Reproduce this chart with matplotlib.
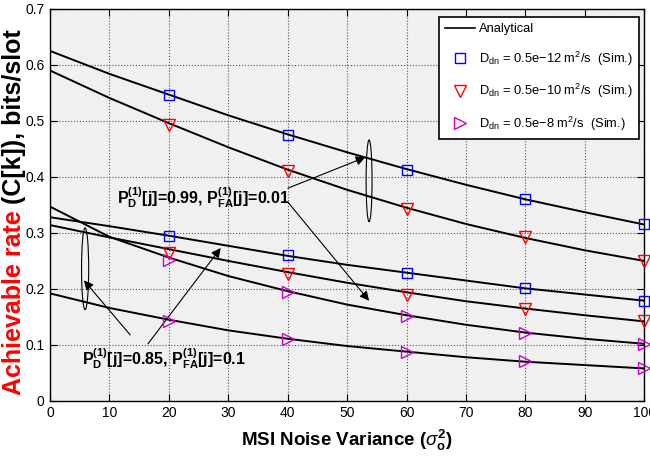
import matplotlib
matplotlib.use("Agg")
import matplotlib.pyplot as plt
from matplotlib.patches import Ellipse

# Data
msi = [0, 10, 20, 30, 40, 50, 60, 70, 80, 90, 100]
ana_12_hi = [0.625, 0.584, 0.547, 0.510, 0.476, 0.444, 0.414, 0.386, 0.360, 0.337, 0.315]
ana_10_hi = [0.590, 0.541, 0.496, 0.453, 0.413, 0.377, 0.345, 0.316, 0.291, 0.269, 0.250]
ana_8_hi = [0.347, 0.293, 0.256, 0.223, 0.196, 0.172, 0.153, 0.136, 0.122, 0.111, 0.102]
ana_12_lo = [0.328, 0.312, 0.295, 0.277, 0.259, 0.243, 0.229, 0.215, 0.201, 0.190, 0.179]
ana_10_lo = [0.314, 0.292, 0.271, 0.250, 0.230, 0.211, 0.194, 0.178, 0.165, 0.153, 0.142]
ana_8_lo = [0.192, 0.166, 0.145, 0.126, 0.111, 0.098, 0.088, 0.078, 0.070, 0.064, 0.058]

msi_sim = [20, 40, 60, 80, 100]
sim_12_hi = [0.547, 0.475, 0.413, 0.360, 0.316]
sim_10_hi = [0.493, 0.410, 0.343, 0.292, 0.250]
sim_8_hi = [0.252, 0.194, 0.152, 0.122, 0.101]
sim_12_lo = [0.295, 0.260, 0.229, 0.201, 0.179]
sim_10_lo = [0.265, 0.226, 0.190, 0.165, 0.143]
sim_8_lo = [0.143, 0.110, 0.088, 0.071, 0.058]

xticks = list(range(0, 101, 10))
yticks = [0, 0.1, 0.2, 0.3, 0.4, 0.5, 0.6, 0.7]
ytick_labels = ["0", "0.1", "0.2", "0.3", "0.4", "0.5", "0.6", "0.7"]

plt.rcParams["font.family"] = ["Liberation Sans", "DejaVu Sans"]
plt.rcParams["mathtext.fontset"] = "custom"
plt.rcParams["mathtext.rm"] = "Liberation Sans"
plt.rcParams["mathtext.it"] = "Liberation Sans:italic"
plt.rcParams["mathtext.bf"] = "Liberation Sans:bold"

fig = plt.figure(figsize=(6.5, 4.7), dpi=100)
ax = fig.add_axes([0.077, 0.147, 0.914, 0.834])
ax.set_facecolor("#f0f0f0")

for ys in [ana_12_hi, ana_10_hi, ana_8_hi, ana_12_lo, ana_10_lo, ana_8_lo]:
    ax.plot(msi, ys, color="black", lw=1.4, zorder=3)

sq = dict(ls="none", marker="s", ms=7.5, mew=1.0, mfc="none", mec="#0000ff", clip_on=False, zorder=4)
tri_d = dict(ls="none", marker="v", ms=9, mew=1.0, mfc="none", mec="#ff0000", clip_on=False, zorder=4)
tri_r = dict(ls="none", marker=">", ms=9, mew=1.0, mfc="none", mec="#cc00cc", clip_on=False, zorder=4)
ax.plot(msi_sim, sim_12_hi, **sq)
ax.plot(msi_sim, sim_12_lo, **sq)
ax.plot(msi_sim, sim_10_hi, **tri_d)
ax.plot(msi_sim, sim_10_lo, **tri_d)
ax.plot(msi_sim, sim_8_hi, **tri_r)
ax.plot(msi_sim, sim_8_lo, **tri_r)

# legend handles
h_ana, = ax.plot([], [], color="black", lw=1.2)
h12, = ax.plot([], [], ls="none", marker="s", ms=7, mfc="none", mec="#0000ff")
h10, = ax.plot([], [], ls="none", marker="v", ms=8.5, mfc="none", mec="#ff0000")
h8, = ax.plot([], [], ls="none", marker=">", ms=8.5, mfc="none", mec="#cc00cc")
leg = ax.legend([h_ana, h12, h10, h8],
                ["Analytical",
                 r"D$_{\rm dn}$ = 0.5e$-$12 m$^2$/s  (Sim.)",
                 r"D$_{\rm dn}$ = 0.5e$-$10 m$^2$/s  (Sim.)",
                 r"D$_{\rm dn}$ = 0.5e$-$8 m$^2$/s  (Sim.)"],
                loc="upper right", bbox_to_anchor=(0.9916, 0.9796), borderaxespad=0,
                fontsize=9.3, fancybox=False, framealpha=1, edgecolor="black",
                handlelength=2.3, handletextpad=0.3, labelspacing=1.1, borderpad=0.5)
leg.get_frame().set_linewidth(1.2)

# annotations
ax.text(11.3, 0.3625, r"P$^{\mathbf{(1)}}_{\mathbf{D}}$[j]=0.99, P$^{\mathbf{(1)}}_{\mathbf{FA}}$[j]=0.01",
        fontsize=11.5, fontweight="bold", ha="left", va="center", zorder=5)
ax.text(5.4, 0.075, r"P$^{\mathbf{(1)}}_{\mathbf{D}}$[j]=0.85, P$^{\mathbf{(1)}}_{\mathbf{FA}}$[j]=0.1",
        fontsize=11.5, fontweight="bold", ha="left", va="center", zorder=5)

ap = dict(arrowstyle="-|>", color="black", lw=0.8, mutation_scale=14)
ax.annotate("", xy=(53.5, 0.437), xytext=(39.6, 0.378), arrowprops=ap)
ax.annotate("", xy=(54.0, 0.175), xytext=(39.8, 0.358), arrowprops=ap)
ax.annotate("", xy=(5.4, 0.219), xytext=(13.8, 0.114), arrowprops=ap)
ax.annotate("", xy=(29.0, 0.277), xytext=(16.2, 0.098), arrowprops=ap)

ax.add_patch(Ellipse((53.7, 0.393), 1.0, 0.146, fill=False, ec="black", lw=0.8, zorder=5))
ax.add_patch(Ellipse((5.9, 0.236), 1.2, 0.146, fill=False, ec="black", lw=0.8, zorder=5))

ax.set_xlim(0, 100)
ax.set_ylim(0, 0.7)
ax.set_xticks(xticks)
ax.set_yticks(yticks)
ax.set_yticklabels(ytick_labels)
ax.tick_params(direction="in", labelsize=10, length=5, top=True, right=True, pad=4)
ax.grid(True, ls=":", color="#555555", lw=0.8)
for sp in ax.spines.values():
    sp.set_linewidth(1.0)

ax.set_xlabel(r"MSI Noise Variance ($\sigma^{\mathbf{2}}_{\mathbf{o}}$)", fontsize=13.5,
              fontweight="bold", labelpad=5)

# two-colour y label: red part, then black part stacked right above it
red = fig.text(0.022, 0.159, "Achievable rate", color="#ff0000", rotation=90,
               fontsize=18, fontweight="bold", ha="center", va="bottom")
fig.canvas.draw()
bb = red.get_window_extent()
fig.text(0.022, bb.y1 / fig.bbox.height, " (C[k]), bits/slot", color="black", rotation=90,
         fontsize=18, fontweight="bold", ha="center", va="bottom")

fig.savefig("out.png", dpi=100)
